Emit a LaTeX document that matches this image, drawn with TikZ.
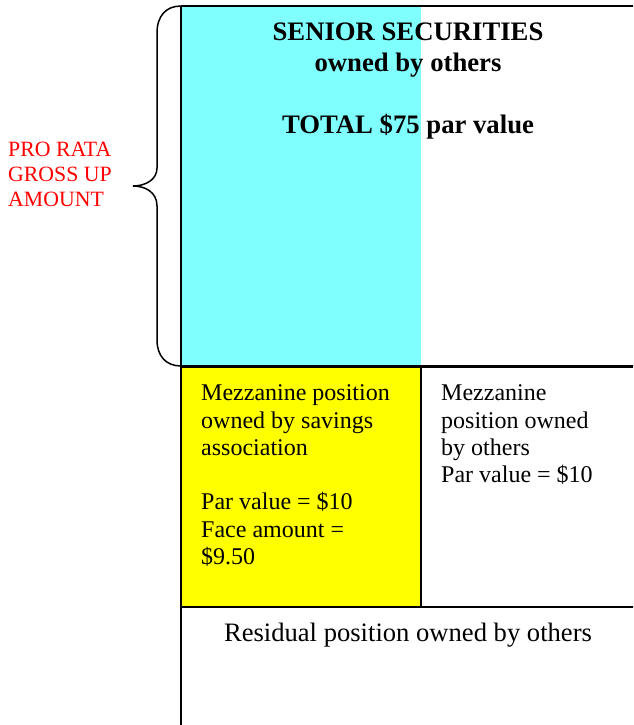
\documentclass[tikz,border=0pt]{standalone}
\usepackage{fontspec}
\setmainfont{Liberation Serif}
\definecolor{cyanfill}{HTML}{80FFFF}
\definecolor{yellowfill}{HTML}{FFFF00}
\definecolor{redtxt}{HTML}{FF0000}
\begin{document}
\begin{tikzpicture}[x=1pt,y=-1pt,
  box/.style={draw=black,line width=2pt},
  txt/.style={anchor=base west,inner sep=0pt,font=\fontsize{24}{27}\selectfont},
  ctxt/.style={anchor=base,inner sep=0pt,font=\fontsize{26.6}{30}\selectfont},
  btxt/.style={anchor=base,inner sep=0pt,font=\fontsize{26.7}{30}\selectfont\bfseries},
  rtxt/.style={anchor=base west,inner sep=0pt,text=redtxt,font=\fontsize{21.8}{24}\selectfont}]
\useasboundingbox (0,0) rectangle (633,725);
\begin{scope}
\clip (0,0) rectangle (633,725);
% fills
\fill[cyanfill] (181,6) rectangle (421,366);
\fill[yellowfill] (181,367) rectangle (421,607);
% boxes
\draw[box] (181,6) -- (640,6);
\draw[box] (181,6) -- (181,730);
\draw[line width=3pt] (181,366) -- (640,366);
\draw[box] (421,366) -- (421,607);
\draw[box] (181,607) -- (640,607);
% brace
\draw[line width=1.5pt] (181,6) .. controls (166,6) and (157,16) .. (157,33)
  -- (157,168) .. controls (157,180) and (145,186) .. (133,186)
  .. controls (145,186) and (157,192) .. (157,206)
  -- (157,340) .. controls (157,356) and (166,366) .. (181,366);
\end{scope}
% texts
\node[btxt] (t1) at (408,41) {SENIOR SECURITIES};
\node[btxt] (t2) at (408,71) {owned by others};
\node[btxt] (t3) at (408,133) {TOTAL \$75 par value};
\node[txt] (y1) at (201,400) {Mezzanine position};
\node[txt] (y2) at (201,428) {owned by savings};
\node[txt] (y3) at (201,455) {association};
\node[txt] (y4) at (201,509) {Par value = \$10};
\node[txt] (y5) at (201,537) {Face amount =};
\node[txt] (y6) at (201,564) {\$9.50};
\node[txt] (m1) at (441,400) {Mezzanine};
\node[txt] (m2) at (441,428) {position owned};
\node[txt] (m3) at (441,455) {by others};
\node[txt] (m4) at (441,482) {Par value = \$10};
\node[ctxt] (r1) at (408,641) {Residual position owned by others};
\node[rtxt] (p1) at (8,156) {PRO RATA};
\node[rtxt] (p2) at (8,181) {GROSS UP};
\node[rtxt] (p3) at (8,206) {AMOUNT};
\end{tikzpicture}
\end{document}
